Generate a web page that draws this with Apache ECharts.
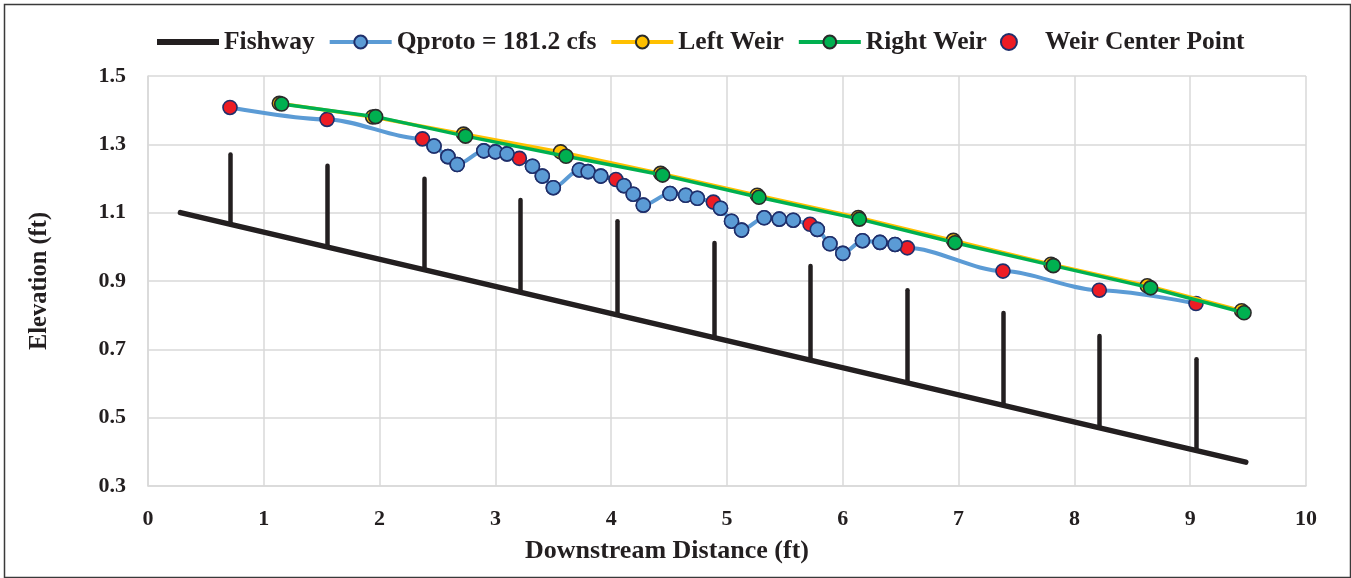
<!DOCTYPE html>
<html><head><meta charset="utf-8">
<script src="https://cdn.jsdelivr.net/npm/echarts@6/dist/echarts.min.js"></script>
<style>html,body{margin:0;padding:0;background:#fff}#c{width:1351px;height:578px}</style>
</head><body><div id="c"></div>
<script>
const seriesNames = ['Fishway', 'Qproto = 181.2 cfs', 'Left Weir', 'Right Weir', 'Weir Center Point'];
const xAxisTitle = 'Downstream Distance (ft)';
const yAxisTitle = 'Elevation (ft)';

const fishwayX = [0.28, 9.48];
const fishwayY = [1.100, 0.370];

const postX = [0.708, 1.546, 2.383, 3.212, 4.050, 4.888, 5.717, 6.554, 7.383, 8.212, 9.050];
const postTop = [1.270, 1.237, 1.199, 1.137, 1.075, 1.011, 0.944, 0.873, 0.806, 0.739, 0.671];
const postBottom = [1.066, 1.000, 0.933, 0.868, 0.801, 0.735, 0.669, 0.602, 0.537, 0.471, 0.405];

const qprotoX = [0.708, 1.546, 2.37, 2.47, 2.59, 2.67, 2.90, 3.00, 3.10, 3.207, 3.32, 3.405, 3.50,
  3.725, 3.80, 3.91, 4.041, 4.11, 4.19, 4.277, 4.508, 4.643, 4.744, 4.882, 4.944, 5.039, 5.126,
  5.321, 5.451, 5.572, 5.717, 5.78, 5.889, 6.00, 6.17, 6.321, 6.451, 6.557, 7.383, 8.215, 9.05];
const qprotoY = [1.408, 1.373, 1.316, 1.295, 1.264, 1.241, 1.281, 1.278, 1.272, 1.259, 1.236, 1.207, 1.173,
  1.225, 1.220, 1.207, 1.197, 1.179, 1.154, 1.122, 1.156, 1.151, 1.142, 1.131, 1.113, 1.075, 1.049,
  1.085, 1.081, 1.078, 1.066, 1.051, 1.009, 0.981, 1.018, 1.013, 1.007, 0.997, 0.929, 0.873, 0.834];

const leftWeirX = [1.134, 1.940, 2.725, 3.563, 4.427, 5.261, 6.134, 6.955, 7.798, 8.629, 9.444];
const leftWeirY = [1.420, 1.380, 1.330, 1.278, 1.215, 1.151, 1.086, 1.019, 0.949, 0.886, 0.813];

const rightWeirX = [1.154, 1.966, 2.742, 3.610, 4.444, 5.276, 6.143, 6.969, 7.818, 8.658, 9.465];
const rightWeirY = [1.418, 1.381, 1.324, 1.265, 1.210, 1.145, 1.081, 1.012, 0.945, 0.880, 0.807];

const centerX = [0.708, 1.546, 2.37, 3.207, 4.041, 4.882, 5.717, 6.557, 7.383, 8.215, 9.05];
const centerY = [1.408, 1.373, 1.316, 1.259, 1.197, 1.131, 1.066, 0.997, 0.929, 0.873, 0.834];

const zip = (xs, ys) => xs.map((x, i) => [x, ys[i]]);
const isCenter = x => centerX.indexOf(x) >= 0;

const FONT = '"Liberation Serif", "Times New Roman", serif';
const TXT = '#231F20';
const GRID = '#D9D9D9';

const qprotoData = qprotoX.map((x, i) => isCenter(x)
  ? { value: [x, qprotoY[i]], symbol: 'none' }
  : { value: [x, qprotoY[i]] });
const qprotoMarkers = qprotoX.map((x, i) => [x, qprotoY[i]]).filter(p => !isCenter(p[0]));

const chart = echarts.init(document.getElementById('c'), null, { renderer: 'canvas' });
chart.setOption({
  animation: false,
  backgroundColor: '#fff',
  graphic: [{
    type: 'rect', left: 2, top: 2, silent: true, z: -10,
    shape: { width: 1346, height: 573 },
    style: { fill: 'none', stroke: '#3a3a3a', lineWidth: 1.5 }
  }],
  legend: {
    data: [
      { name: seriesNames[0], icon: 'path://M0,0 L60,0 L60,6 L0,6 Z' },
      { name: seriesNames[1], lineStyle: { width: 4 } },
      { name: seriesNames[2], lineStyle: { width: 4 } },
      { name: seriesNames[3], lineStyle: { width: 4 } },
      { name: seriesNames[4] }
    ],
    top: 24,
    left: 152,
    itemWidth: 62,
    itemHeight: 16,
    itemGap: 13,
    textStyle: { fontFamily: FONT, fontWeight: 'bold', fontSize: 25.5, color: TXT }
  },
  grid: { left: 148, right: 45, top: 76, bottom: 92, containLabel: false },
  xAxis: {
    type: 'value', min: 0, max: 10, interval: 1,
    name: xAxisTitle, nameLocation: 'middle', nameGap: 52,
    nameTextStyle: { fontFamily: FONT, fontWeight: 'bold', fontSize: 26, color: TXT,
      padding: [0, 120, 0, 0] },
    axisLine: { show: true, lineStyle: { color: GRID, width: 1.5 } },
    axisTick: { show: false },
    axisLabel: { margin: 22, fontFamily: FONT, fontWeight: 'bold', fontSize: 22, color: TXT },
    splitLine: { show: true, lineStyle: { color: GRID, width: 1.5 } }
  },
  yAxis: {
    type: 'value', min: 0.3, max: 1.5, interval: 0.2,
    name: yAxisTitle, nameLocation: 'middle', nameGap: 96, nameRotate: 90,
    nameTextStyle: { fontFamily: FONT, fontWeight: 'bold', fontSize: 24.5, color: TXT },
    axisLine: { show: true, lineStyle: { color: GRID, width: 1.5 } },
    axisTick: { show: false },
    axisLabel: { margin: 22, fontFamily: FONT, fontWeight: 'bold', fontSize: 22, color: TXT,
      formatter: v => v.toFixed(1) },
    splitLine: { show: true, lineStyle: { color: GRID, width: 1.5 } }
  },
  series: [
    {
      name: seriesNames[0], type: 'line', z: 2,
      data: zip(fishwayX, fishwayY),
      symbol: 'none',
      lineStyle: { color: '#231F20', width: 5.5, cap: 'round' },
      itemStyle: { color: '#231F20' }
    },
    {
      name: 'posts', type: 'lines', coordinateSystem: 'cartesian2d', z: 2, silent: true,
      data: postX.map((x, i) => ({ coords: [[x, postBottom[i]], [x, postTop[i]]] })),
      lineStyle: { color: '#231F20', width: 4.5, opacity: 1, cap: 'round' }
    },
    {
      name: seriesNames[4], type: 'scatter', z: 4,
      data: zip(centerX, centerY),
      symbol: 'circle', symbolSize: 14,
      itemStyle: { color: '#ED1C24', borderColor: '#1F2F6B', borderWidth: 1.6, opacity: 1 }
    },
    {
      name: seriesNames[1], type: 'line', z: 3,
      data: qprotoData,
      smooth: 0.3, smoothMonotone: 'x',
      symbol: 'circle', symbolSize: 14, showSymbol: true,
      lineStyle: { color: '#5B9BD5', width: 4 },
      itemStyle: { color: '#5B9BD5', borderColor: '#1F2F6B', borderWidth: 1.6 }
    },
    {
      name: 'qprotoMarkers', type: 'scatter', z: 5, silent: true,
      data: qprotoMarkers,
      symbol: 'circle', symbolSize: 14,
      itemStyle: { color: '#5B9BD5', borderColor: '#1F2F6B', borderWidth: 1.6, opacity: 1 }
    },
    {
      name: seriesNames[2], type: 'line', z: 6,
      data: zip(leftWeirX, leftWeirY),
      symbol: 'circle', symbolSize: 14,
      lineStyle: { color: '#FFC000', width: 3.5 },
      itemStyle: { color: '#FFC000', borderColor: '#2a2a2a', borderWidth: 1.6 }
    },
    {
      name: seriesNames[3], type: 'line', z: 7,
      data: zip(rightWeirX, rightWeirY),
      symbol: 'circle', symbolSize: 14,
      lineStyle: { color: '#00B050', width: 3.5 },
      itemStyle: { color: '#00B050', borderColor: '#2a2a2a', borderWidth: 1.6 }
    }
  ]
});
</script>
</body></html>
